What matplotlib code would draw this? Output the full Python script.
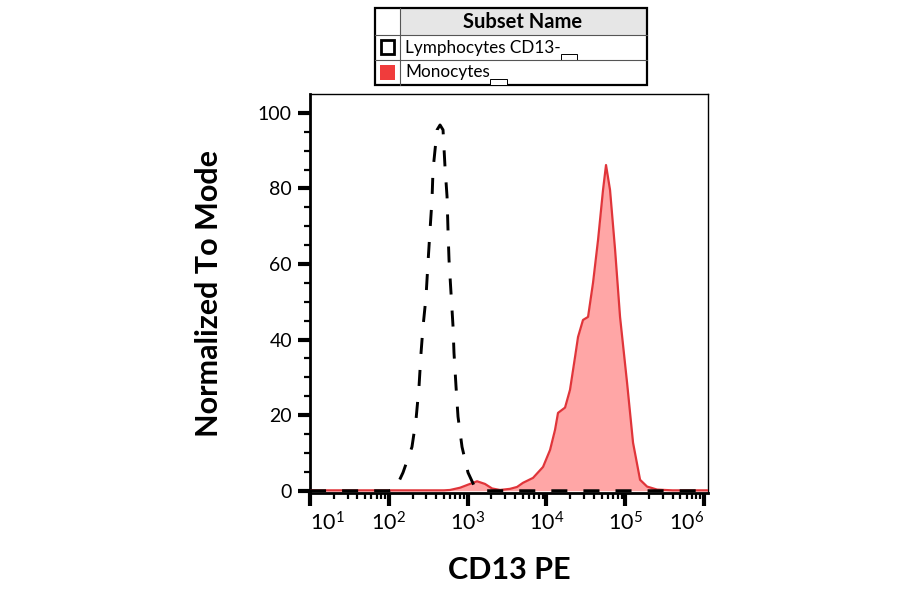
import numpy as np
import matplotlib
matplotlib.use('Agg')
import matplotlib.pyplot as plt
from matplotlib.patches import Rectangle
from matplotlib.ticker import FixedLocator, LogLocator, NullFormatter

plt.rcParams['font.family'] = ['Lato', 'DejaVu Sans']
plt.rcParams['mathtext.fontset'] = 'custom'
plt.rcParams['mathtext.rm'] = 'Lato'
plt.rcParams['mathtext.it'] = 'Lato'

# Lymphocytes CD13- (dashed outline), x in decades (log10), y normalized to mode
lymph_dec = [1.0, 1.8, 2.0, 2.079, 2.18, 2.294, 2.345, 2.383, 2.409, 2.434, 2.472, 2.497,
             2.523, 2.548, 2.561, 2.612, 2.65, 2.688, 2.713, 2.739, 2.751, 2.764, 2.789,
             2.815, 2.827, 2.853, 2.878, 2.929, 3.005, 3.094, 3.2, 4.0, 5.0, 6.05]
lymph_val = [0, 0, 0, 0.3, 4.8, 11.6, 18.8, 27.5, 36.5, 43.4, 51.3, 60.3,
             69.0, 77.0, 84.9, 95.5, 96.8, 95.5, 85.7, 77.8, 69.0, 61.1, 52.4,
             43.4, 36.5, 27.5, 19.6, 11.6, 4.8, 0.8, 0, 0, 0, 0]

# Monocytes (filled red)
mono_dec = [1.0, 2.0, 2.7, 2.777, 2.904, 3.03, 3.12, 3.22, 3.31, 3.41, 3.538, 3.627,
            3.703, 3.83, 3.957, 4.046, 4.109, 4.147, 4.236, 4.299, 4.363, 4.401, 4.464,
            4.528, 4.591, 4.655, 4.718, 4.756, 4.807, 4.871, 4.934, 5.023, 5.099, 5.188,
            5.277, 5.404, 5.6, 6.05]
mono_val = [0.1, 0.1, 0.1, 0.2, 0.8, 1.8, 2.5, 1.8, 0.6, 0.2, 0.5, 1.0,
            2.1, 3.4, 6.3, 10.8, 16.1, 20.6, 22.0, 26.7, 35.4, 40.7, 45.2,
            46.0, 55.0, 66.4, 79.6, 86.2, 79.6, 63.8, 46.0, 28.6, 12.7, 2.9,
            1.1, 0.3, 0.1, 0.1]

legend_names = ['Lymphocytes CD13-', 'Monocytes']
x_ticks = [1, 2, 3, 4, 5, 6]
y_ticks = [0, 20, 40, 60, 80, 100]

red_edge = '#E0353A'
red_fill = '#FFA6A6'

fig = plt.figure(figsize=(9, 5.94), dpi=100)
ax = fig.add_axes([310 / 900, 1 - 493 / 594, 398 / 900, 399 / 594])

mx = 10.0 ** np.array(mono_dec)
ax.fill_between(mx, mono_val, 0, color=red_fill, lw=0, zorder=2)
ax.plot(mx, mono_val, color=red_edge, lw=1.6, zorder=3)

lx = 10.0 ** np.array(lymph_dec)
ax.plot(lx, lymph_val, color='black', lw=2.1, ls=(0, (5.5, 5.5)), zorder=4)

ax.set_xscale('log')
ax.set_xlim(10, 10 ** 6.05)
ax.set_ylim(-0.6, 105)

ax.xaxis.set_major_locator(FixedLocator([10.0 ** d for d in x_ticks]))
ax.set_xticklabels([r'$10^{%d}$' % d for d in x_ticks])
ax.xaxis.set_minor_locator(LogLocator(base=10, subs=np.arange(2, 10)))
ax.xaxis.set_minor_formatter(NullFormatter())
labs = ax.get_xticklabels()
labs[0].set_horizontalalignment('left')
labs[-1].set_horizontalalignment('right')
for lab in labs:
    lab.set_fontsize(15.5)

ax.set_yticks(y_ticks)
ax.yaxis.set_minor_locator(FixedLocator(np.arange(0, 101, 5)))

ax.tick_params(axis='both', which='major', length=9, width=3.0, pad=4)
ax.tick_params(axis='y', which='major', labelsize=14)
ax.tick_params(axis='both', which='minor', length=4.5, width=1.6)
ax.tick_params(axis='x', which='major', pad=4)
for s in ax.spines.values():
    s.set_linewidth(1.0)
ax.spines['bottom'].set_linewidth(2.0)
ax.spines['left'].set_linewidth(2.0)

ax.set_xlabel('CD13 PE', fontsize=22, fontweight='bold', labelpad=16)
ax.set_ylabel('Normalized To Mode', fontsize=22, fontweight='bold', labelpad=25)

# legend table in figure pixels (top-left origin)
def fr(x, y, w, h, **kw):
    fig.patches.append(Rectangle((x / 900, 1 - (y + h) / 594), w / 900, h / 594,
                                 transform=fig.transFigure, **kw))

fr(375, 8, 272, 27, facecolor='#E6E6E6', edgecolor='none')
fr(375, 8, 25, 27, facecolor='white', edgecolor='none')
for yy in (35, 60):
    fig.add_artist(plt.Line2D([375 / 900, 647 / 900], [1 - yy / 594] * 2,
                              color='#555555', lw=0.8, transform=fig.transFigure))
fig.add_artist(plt.Line2D([400 / 900] * 2, [1 - 8 / 594, 1 - 85 / 594],
                          color='#555555', lw=0.8, transform=fig.transFigure))
fr(375, 8, 272, 77, facecolor='none', edgecolor='black', lw=1.6)

fig.text(523 / 900, 1 - 22 / 594, 'Subset Name', ha='center', va='center',
         fontsize=14.5, fontweight='bold')
fig.text(405 / 900, 1 - 47.5 / 594, legend_names[0], ha='left', va='center', fontsize=12.3)
fig.text(405 / 900, 1 - 72.5 / 594, legend_names[1], ha='left', va='center', fontsize=12.3)
fr(381, 40, 13, 14, facecolor='white', edgecolor='black', lw=2.0)
fr(380, 65, 15, 15, facecolor='#F03C3C', edgecolor='none')
fr(561, 54, 16, 6, facecolor='white', edgecolor='black', lw=0.7)
fr(490, 79, 17, 6, facecolor='white', edgecolor='black', lw=0.7)

fig.savefig('out.png', dpi=100)
